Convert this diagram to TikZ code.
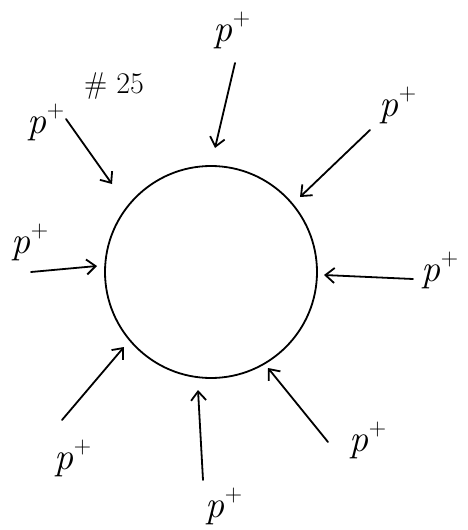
\documentclass[tikz,border=0pt]{standalone}
\usetikzlibrary{arrows.meta}
\newcommand{\pplus}{{\itshape p}\raisebox{0.42em}{\fontsize{24}{24}\selectfont +}}
\begin{document}
\begin{tikzpicture}[x=1pt,y=-1pt,
  ink/.style={line width=1.8pt,line cap=round,line join=round},
  arr/.style={ink,-{Straight Barb[length=9pt,width=15pt,line width=1.8pt]}},
  lab/.style={inner sep=0pt,font=\fontsize{38}{38}\selectfont},
  note/.style={inner sep=0pt,font=\fontsize{30}{30}\selectfont}]
\useasboundingbox (0,0) rectangle (467,530);
% membrane
\node[draw,ink,circle,minimum size=212pt,inner sep=0pt] (cell) at (211,272) {};
% labels
\node[lab] (l1) at (232,30) {\pplus};
\node[lab] (l2) at (398,105) {\pplus};
\node[lab] (l3) at (46,122) {\pplus};
\node[note] (n25) at (114,86) {\# 25};
\node[lab] (l4) at (30,242) {\pplus};
\node[lab] (l5) at (440,270) {\pplus};
\node[lab] (l6) at (73,458) {\pplus};
\node[lab] (l7) at (224,506) {\pplus};
\node[lab] (l8) at (368,440) {\pplus};
% arrow tails and heads
\coordinate (t1) at (235,63);  \coordinate (h1) at (215,148);
\coordinate (t2) at (370,130); \coordinate (h2) at (300,197);
\coordinate (t3) at (66,119);  \coordinate (h3) at (112,184);
\coordinate (t4) at (31,272);  \coordinate (h4) at (97,266);
\coordinate (t5) at (413,279); \coordinate (h5) at (324,275);
\coordinate (t6) at (62,420);  \coordinate (h6) at (124,347);
\coordinate (t7) at (203,480); \coordinate (h7) at (198,390);
\coordinate (t8) at (328,442); \coordinate (h8) at (268,368);
\foreach \i in {1,...,8} {\draw[arr] (t\i) -- (h\i);}
\end{tikzpicture}
\end{document}
